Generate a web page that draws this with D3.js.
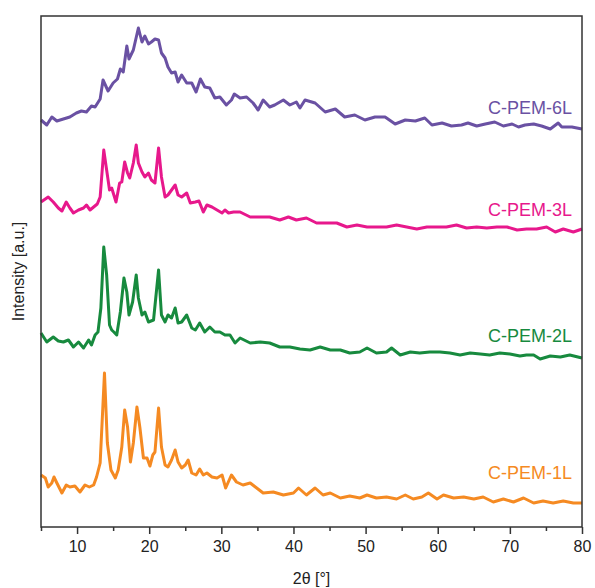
<!DOCTYPE html>
<html lang="en">
<head>
<meta charset="UTF-8">
<title>XRD C-PEM</title>
<script src="https://d3js.org/d3.v7.min.js"></script>
<style>
  body { margin: 0; background: #fff; }
  text { font-family: "Liberation Sans", Arial, sans-serif; }
</style>
</head>
<body>
<script>
// series names, colours and vertical offsets (a.u.)
var names = ["C-PEM-1L", "C-PEM-2L", "C-PEM-3L", "C-PEM-6L"];
var colors = ["#f58a22", "#178a3e", "#e7188c", "#6a51a3"];
var offsets = [0, 145, 270, 370];
var labelY = [48, 40, 41, 43];   // label height above the curve offset
var xTicks = [10, 20, 30, 40, 50, 60, 70, 80];
var xMinor = [5, 15, 25, 35, 45, 55, 65, 75];

// C-PEM-1L
var x1 = [5.0,5.6,6.0,6.5,6.8,7.2,7.9,8.5,9.0,9.7,10.4,11.1,11.7,12.3,12.7,13.2,13.8,14.2,14.7,15.3,15.7,16.2,16.6,17.0,17.4,17.8,18.3,18.7,19.2,19.7,20.1,20.5,20.8,21.3,21.7,22.2,22.6,23.1,23.6,24.0,24.5,25.0,25.4,25.9,26.5,27.0,27.5,28.0,28.7,29.4,30.1,30.6,31.4,32.1,33.0,34.0,34.9,35.8,37.2,38.6,40.0,40.7,41.8,43.0,44.1,45.1,46.5,47.8,49.2,50.2,51.5,52.9,54.3,55.5,56.6,57.8,58.7,59.9,60.8,62.2,63.6,65.0,66.3,67.7,69.1,70.5,71.9,73.3,74.6,76.0,77.4,78.8,80.0];
var y1 = [52,49,40,44,50,44,34,42,40,41,35,42,40,42,50,64,154,84,57,49,57,80,117,100,65,84,120,100,69,69,61,72,75,119,80,62,60,67,77,65,59,62,67,54,52,58,52,54,50,49,52,39,52,45,42,44,39,34,35,32,34,39,32,39,32,34,29,31,29,32,29,30,28,32,28,30,34,28,32,29,30,28,30,25,28,25,29,24,26,24,26,24,24];

// C-PEM-2L
var x2 = [5.0,5.8,6.7,7.4,8.1,8.8,9.5,10.2,10.9,11.6,12.0,12.5,12.9,13.3,13.7,14.1,14.5,14.8,15.1,15.5,16.0,16.5,16.9,17.2,17.7,18.2,18.5,19.0,19.4,19.9,20.6,21.3,21.7,22.2,22.6,23.1,23.6,24.0,24.5,25.2,25.9,26.4,27.0,27.7,28.4,29.1,29.8,30.5,31.2,31.9,32.6,34.0,35.4,36.7,38.1,39.5,40.9,42.3,43.7,45.1,46.5,47.8,49.2,50.2,51.5,52.9,53.6,54.8,56.2,57.5,58.9,60.3,61.7,63.1,64.5,65.9,67.2,68.6,70.0,71.4,72.3,73.3,74.2,75.6,77.0,78.3,80.0];
var y2 = [49,40,45,41,40,42,35,40,34,42,37,47,50,74,135,107,57,52,50,47,70,104,90,67,80,107,84,67,70,60,62,112,67,60,67,64,74,59,60,67,54,52,59,50,55,50,50,47,47,39,44,39,40,39,35,35,33,32,35,32,32,29,30,34,29,30,34,27,30,29,30,30,29,27,29,28,27,29,28,26,27,27,23,26,25,27,24];

// C-PEM-3L
var x3 = [5.0,5.6,6.0,6.7,7.4,7.9,8.5,9.0,9.5,10.2,10.9,11.3,11.8,12.3,12.8,13.2,13.7,14.1,14.5,14.8,15.4,15.9,16.2,16.6,17.0,17.3,17.8,18.2,18.5,19.0,19.4,19.9,20.3,20.8,21.3,21.7,22.2,22.6,23.1,23.6,24.0,24.5,25.2,25.7,26.4,26.9,27.5,28.0,28.7,29.4,30.1,30.5,31.0,31.7,32.6,34.0,35.4,36.7,38.1,39.3,40.4,41.8,43.2,44.6,46.0,47.4,48.8,50.2,51.5,52.9,54.3,55.7,57.1,58.5,59.9,61.2,62.6,64.0,65.4,66.8,68.2,69.6,71.0,72.3,73.7,75.1,76.3,77.4,78.8,80.0];
var y3 = [55,58,60,55,49,46,55,49,44,47,49,52,47,50,53,60,107,87,67,69,55,74,75,95,84,79,94,112,94,85,80,84,77,74,109,80,60,62,67,72,62,60,64,54,55,56,45,52,50,47,44,47,44,45,45,40,40,40,37,40,37,39,34,34,34,30,32,30,30,30,32,30,28,30,30,30,32,29,30,29,30,30,27,28,28,30,25,28,25,28];

// C-PEM-6L
var x6 = [5.0,5.8,6.5,7.2,8.1,9.0,9.9,10.6,11.3,12.0,12.5,13.2,13.6,14.3,15.0,15.6,16.0,16.4,16.9,17.2,17.8,18.5,19.0,19.4,19.9,20.3,20.8,21.3,21.7,22.2,22.6,23.1,23.6,24.0,24.5,25.2,25.9,26.5,27.1,27.7,28.4,29.1,29.8,30.7,31.4,31.8,32.6,33.5,34.4,35.1,35.8,36.7,37.4,38.6,39.5,40.4,40.9,41.6,43.0,44.4,45.8,47.1,48.5,49.9,51.3,52.7,54.1,55.5,56.9,58.2,59.2,60.6,61.9,63.3,64.2,65.4,66.6,67.9,69.1,70.3,71.2,72.1,73.3,74.4,75.6,76.7,77.2,78.6,80.0];
var y6 = [37,32,40,36,38,40,44,46,45,51,50,58,77,66,74,78,88,85,111,98,107,129,115,121,113,115,118,117,104,99,90,84,85,75,82,74,74,65,78,70,69,59,60,52,57,63,59,60,54,47,57,50,52,57,52,55,49,57,54,45,48,40,42,37,40,40,33,37,36,39,32,34,31,32,34,31,33,35,31,33,30,32,33,31,28,34,30,30,28];

var xs = [x1, x2, x3, x6];
var ys = [y1, y2, y3, y6];

var W = 595, H = 588;
var margin = {top: 16, right: 13, bottom: 61, left: 41};
var w = W - margin.left - margin.right;
var h = H - margin.top - margin.bottom;

var svg = d3.select("body").append("svg")
    .attr("width", W)
    .attr("height", H);

var g = svg.append("g")
    .attr("transform", "translate(" + margin.left + "," + margin.top + ")");

var x = d3.scaleLinear().domain([5, 80]).range([0, w]);
var y = d3.scaleLinear().domain([0, 511]).range([h, 0]);

var line = d3.line()
    .x(function (d) { return x(d[0]); })
    .y(function (d) { return y(d[1]); });

xs.forEach(function (xv, k) {
    var pts = xv.map(function (v, i) { return [v, ys[k][i] + offsets[k]]; });
    g.append("path")
        .datum(pts)
        .attr("fill", "none")
        .attr("stroke", colors[k])
        .attr("stroke-width", 3)
        .attr("stroke-linejoin", "round")
        .attr("d", line);

    g.append("text")
        .attr("x", w - 10)
        .attr("y", y(offsets[k] + labelY[k]))
        .attr("text-anchor", "end")
        .attr("font-size", "18px")
        .attr("fill", colors[k])
        .text(names[k]);
});

// frame
g.append("rect")
    .attr("x", 0).attr("y", 0)
    .attr("width", w).attr("height", h)
    .attr("fill", "none")
    .attr("stroke", "#333")
    .attr("stroke-width", 1.5);

// x axis, major and minor ticks
var axis = g.append("g")
    .attr("transform", "translate(0," + h + ")")
    .call(d3.axisBottom(x).tickValues(xTicks).tickSize(7).tickSizeOuter(0).tickPadding(7));
axis.select(".domain").remove();
axis.selectAll("line").attr("stroke", "#333").attr("stroke-width", 1.5);
axis.selectAll("text")
    .attr("font-size", "16px")
    .attr("fill", "#222");

var minor = g.append("g")
    .attr("transform", "translate(0," + h + ")")
    .call(d3.axisBottom(x).tickValues(xMinor).tickSize(4).tickFormat(""));
minor.select(".domain").remove();
minor.selectAll("line").attr("stroke", "#333").attr("stroke-width", 1.5);

svg.append("text")
    .attr("x", margin.left + w / 2)
    .attr("y", 584)
    .attr("text-anchor", "middle")
    .attr("font-size", "16px")
    .attr("fill", "#222")
    .text("2θ [°]");

svg.append("text")
    .attr("transform", "translate(24," + (margin.top + h / 2) + ") rotate(-90)")
    .attr("text-anchor", "middle")
    .attr("font-size", "16px")
    .attr("fill", "#222")
    .text("Intensity [a.u.]");
</script>
</body>
</html>
